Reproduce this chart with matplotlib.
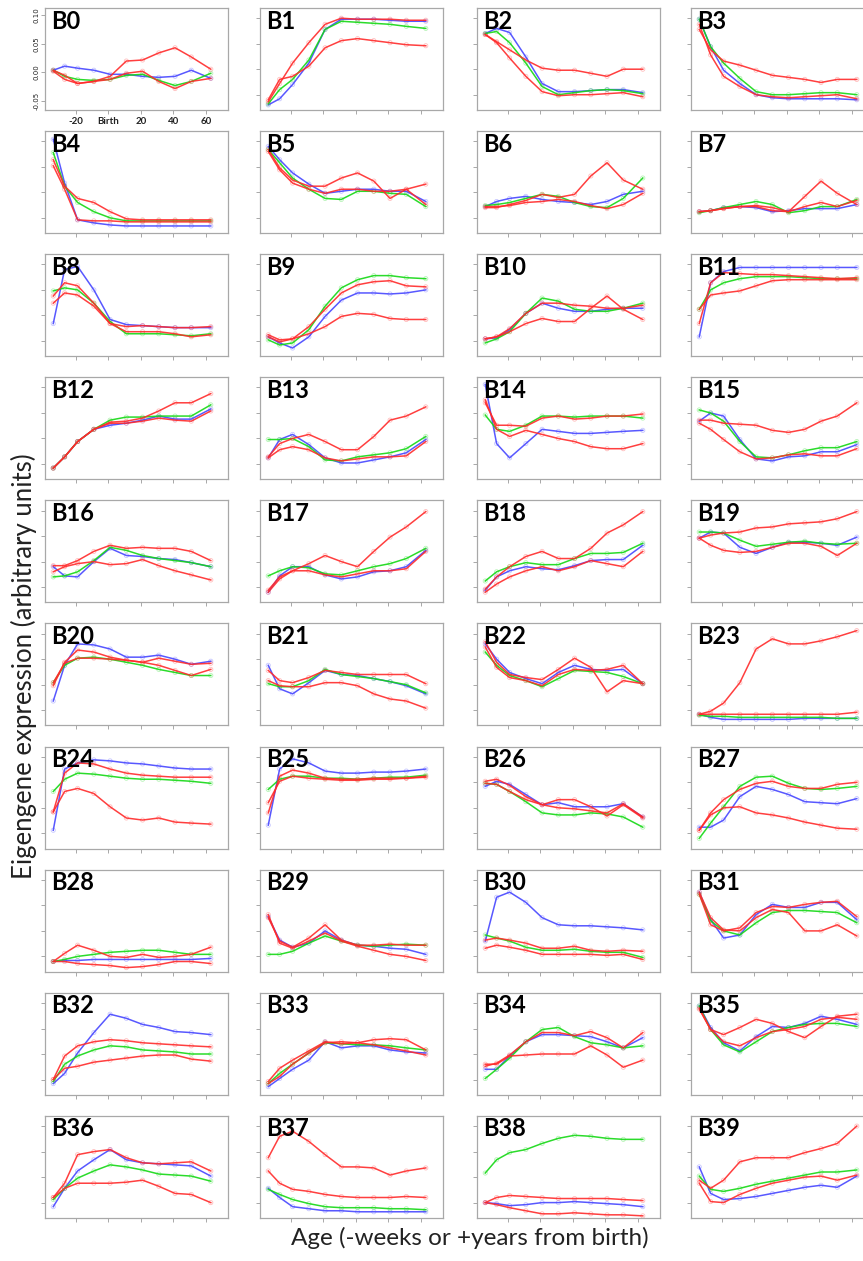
import matplotlib.pyplot as plt

# positions of the smoothed-curve knots on the age axis (tick 1 = -20 wk, 2 = birth, ...)
KNOT_X = [0.3, 0.65, 1.05, 1.55, 2.05, 2.55, 3.05, 3.55, 4.05, 4.55, 5.15]
TICK_POS = [1, 2, 3, 4, 5]
TICK_LABELS = ['-20', 'Birth', '20', '40', '60']
B0_YTICK_POS = [0.09, 0.37, 0.65, 0.93]
B0_YTICK_LABELS = ['-0.05', '0.00', '0.05', '0.10']
YTICK_POS = [0.15, 0.4, 0.65, 0.9]
PANEL_NAMES = ['B%d' % i for i in range(40)]

# eigengene curves, scaled to the panel height (0 = bottom, 1 = top)
BLUE = [
    [0.39, 0.43, 0.41, 0.39, 0.35, 0.35, 0.33, 0.32, 0.33, 0.39, 0.31],  # B0
    [0.05, 0.11, 0.25, 0.46, 0.79, 0.89, 0.89, 0.89, 0.88, 0.87, 0.87],  # B1
    [0.75, 0.80, 0.76, 0.52, 0.26, 0.18, 0.18, 0.19, 0.20, 0.20, 0.17],  # B2
    [0.89, 0.62, 0.39, 0.26, 0.15, 0.12, 0.11, 0.11, 0.11, 0.11, 0.10],  # B3
    [0.92, 0.49, 0.13, 0.10, 0.08, 0.07, 0.07, 0.07, 0.07, 0.07, 0.07],  # B4
    [0.85, 0.72, 0.59, 0.48, 0.39, 0.41, 0.43, 0.43, 0.41, 0.41, 0.31],  # B5
    [0.26, 0.31, 0.34, 0.36, 0.33, 0.31, 0.30, 0.28, 0.31, 0.38, 0.41],  # B6
    [0.21, 0.22, 0.25, 0.26, 0.25, 0.21, 0.22, 0.24, 0.24, 0.24, 0.28],  # B7
    [0.32, 0.85, 0.88, 0.65, 0.36, 0.31, 0.30, 0.29, 0.28, 0.28, 0.28],  # B8
    [0.19, 0.13, 0.08, 0.19, 0.39, 0.55, 0.62, 0.62, 0.61, 0.62, 0.65],  # B9
    [0.17, 0.18, 0.26, 0.42, 0.52, 0.47, 0.44, 0.44, 0.46, 0.47, 0.47],  # B10
    [0.19, 0.72, 0.83, 0.87, 0.87, 0.87, 0.87, 0.87, 0.87, 0.87, 0.87],  # B11
    [0.11, 0.22, 0.37, 0.49, 0.53, 0.55, 0.58, 0.62, 0.59, 0.59, 0.69],  # B12
    [0.21, 0.39, 0.44, 0.34, 0.21, 0.16, 0.16, 0.19, 0.22, 0.26, 0.39],  # B13
    [0.93, 0.35, 0.21, 0.35, 0.49, 0.47, 0.45, 0.45, 0.46, 0.47, 0.48],  # B14
    [0.57, 0.65, 0.62, 0.39, 0.20, 0.18, 0.22, 0.23, 0.27, 0.27, 0.34],  # B15
    [0.35, 0.26, 0.25, 0.40, 0.53, 0.46, 0.45, 0.43, 0.42, 0.39, 0.35],  # B16
    [0.10, 0.26, 0.35, 0.35, 0.27, 0.23, 0.25, 0.30, 0.31, 0.35, 0.51],  # B17
    [0.12, 0.25, 0.31, 0.35, 0.33, 0.32, 0.36, 0.41, 0.42, 0.42, 0.56],  # B18
    [0.63, 0.69, 0.68, 0.54, 0.48, 0.54, 0.59, 0.59, 0.58, 0.56, 0.64],  # B19
    [0.24, 0.59, 0.80, 0.79, 0.75, 0.67, 0.67, 0.69, 0.65, 0.60, 0.63],  # B20
    [0.59, 0.36, 0.31, 0.42, 0.54, 0.50, 0.49, 0.46, 0.43, 0.39, 0.31],  # B21
    [0.80, 0.65, 0.52, 0.46, 0.41, 0.52, 0.59, 0.55, 0.54, 0.55, 0.41],  # B22
    [0.11, 0.08, 0.06, 0.06, 0.06, 0.06, 0.06, 0.07, 0.07, 0.07, 0.07],  # B23
    [0.18, 0.78, 0.84, 0.87, 0.86, 0.84, 0.83, 0.81, 0.79, 0.78, 0.78],  # B24
    [0.23, 0.78, 0.88, 0.84, 0.76, 0.74, 0.74, 0.75, 0.75, 0.76, 0.78],  # B25
    [0.61, 0.66, 0.63, 0.53, 0.43, 0.45, 0.41, 0.41, 0.41, 0.44, 0.31],  # B26
    [0.21, 0.21, 0.28, 0.51, 0.61, 0.58, 0.53, 0.46, 0.45, 0.44, 0.49],  # B27
    [0.10, 0.11, 0.11, 0.12, 0.12, 0.12, 0.12, 0.12, 0.12, 0.12, 0.13],  # B28
    [0.54, 0.31, 0.24, 0.28, 0.40, 0.31, 0.26, 0.25, 0.23, 0.22, 0.17],  # B29
    [0.30, 0.73, 0.78, 0.68, 0.53, 0.46, 0.45, 0.45, 0.44, 0.43, 0.41],  # B30
    [0.78, 0.51, 0.33, 0.36, 0.56, 0.66, 0.63, 0.63, 0.68, 0.68, 0.51],  # B31
    [0.11, 0.21, 0.41, 0.61, 0.79, 0.75, 0.69, 0.66, 0.62, 0.61, 0.59],  # B32
    [0.08, 0.16, 0.25, 0.34, 0.52, 0.46, 0.48, 0.48, 0.44, 0.42, 0.41],  # B33
    [0.25, 0.25, 0.38, 0.52, 0.59, 0.59, 0.58, 0.57, 0.52, 0.46, 0.56],  # B34
    [0.87, 0.66, 0.51, 0.43, 0.57, 0.67, 0.66, 0.70, 0.77, 0.74, 0.69],  # B35
    [0.11, 0.29, 0.46, 0.57, 0.67, 0.57, 0.54, 0.53, 0.52, 0.51, 0.41],  # B36
    [0.29, 0.20, 0.11, 0.09, 0.07, 0.07, 0.06, 0.06, 0.06, 0.06, 0.06],  # B37
    [0.15, 0.14, 0.12, 0.13, 0.15, 0.15, 0.16, 0.15, 0.14, 0.13, 0.11],  # B38
    [0.50, 0.24, 0.18, 0.19, 0.21, 0.24, 0.27, 0.30, 0.32, 0.30, 0.41],  # B39
]

GREEN = [
    [0.39, 0.33, 0.30, 0.29, 0.30, 0.34, 0.35, 0.29, 0.24, 0.28, 0.36],  # B0
    [0.06, 0.20, 0.30, 0.49, 0.79, 0.87, 0.86, 0.85, 0.84, 0.82, 0.80],  # B1
    [0.75, 0.77, 0.66, 0.46, 0.23, 0.15, 0.17, 0.19, 0.20, 0.19, 0.16],  # B2
    [0.89, 0.62, 0.46, 0.31, 0.18, 0.15, 0.15, 0.16, 0.17, 0.17, 0.15],  # B3
    [0.79, 0.46, 0.30, 0.21, 0.15, 0.12, 0.12, 0.12, 0.12, 0.12, 0.12],  # B4
    [0.82, 0.69, 0.54, 0.43, 0.34, 0.33, 0.41, 0.41, 0.39, 0.38, 0.26],  # B5
    [0.27, 0.28, 0.30, 0.34, 0.38, 0.36, 0.30, 0.26, 0.25, 0.34, 0.54],  # B6
    [0.20, 0.22, 0.25, 0.28, 0.31, 0.28, 0.20, 0.22, 0.26, 0.26, 0.33],  # B7
    [0.64, 0.67, 0.65, 0.52, 0.34, 0.22, 0.22, 0.22, 0.21, 0.20, 0.22],  # B8
    [0.16, 0.11, 0.13, 0.26, 0.49, 0.67, 0.75, 0.79, 0.79, 0.77, 0.76],  # B9
    [0.13, 0.17, 0.24, 0.42, 0.57, 0.54, 0.46, 0.44, 0.44, 0.47, 0.52],  # B10
    [0.46, 0.65, 0.72, 0.76, 0.78, 0.78, 0.78, 0.77, 0.76, 0.76, 0.76],  # B11
    [0.11, 0.22, 0.37, 0.49, 0.58, 0.61, 0.61, 0.62, 0.62, 0.62, 0.73],  # B12
    [0.39, 0.39, 0.40, 0.32, 0.19, 0.18, 0.22, 0.24, 0.26, 0.30, 0.42],  # B13
    [0.63, 0.49, 0.47, 0.53, 0.62, 0.62, 0.61, 0.62, 0.62, 0.62, 0.60],  # B14
    [0.68, 0.65, 0.57, 0.37, 0.22, 0.21, 0.24, 0.28, 0.31, 0.31, 0.37],  # B15
    [0.25, 0.26, 0.30, 0.41, 0.54, 0.51, 0.46, 0.43, 0.41, 0.39, 0.35],  # B16
    [0.26, 0.31, 0.35, 0.34, 0.28, 0.27, 0.31, 0.35, 0.38, 0.43, 0.53],  # B17
    [0.21, 0.30, 0.35, 0.39, 0.37, 0.37, 0.43, 0.48, 0.48, 0.49, 0.58],  # B18
    [0.69, 0.69, 0.68, 0.61, 0.55, 0.57, 0.59, 0.60, 0.58, 0.57, 0.58],  # B19
    [0.42, 0.59, 0.66, 0.67, 0.65, 0.62, 0.59, 0.55, 0.52, 0.49, 0.49],  # B20
    [0.41, 0.38, 0.38, 0.44, 0.55, 0.50, 0.48, 0.46, 0.43, 0.40, 0.32],  # B21
    [0.72, 0.59, 0.49, 0.44, 0.38, 0.46, 0.54, 0.53, 0.52, 0.48, 0.41],  # B22
    [0.10, 0.09, 0.09, 0.08, 0.08, 0.08, 0.08, 0.08, 0.08, 0.07, 0.07],  # B23
    [0.56, 0.68, 0.74, 0.73, 0.71, 0.69, 0.68, 0.68, 0.67, 0.66, 0.64],  # B24
    [0.58, 0.68, 0.71, 0.71, 0.69, 0.69, 0.68, 0.69, 0.70, 0.70, 0.72],  # B25
    [0.64, 0.63, 0.56, 0.46, 0.35, 0.33, 0.33, 0.35, 0.34, 0.31, 0.21],  # B26
    [0.10, 0.25, 0.41, 0.61, 0.70, 0.71, 0.64, 0.59, 0.58, 0.59, 0.61],  # B27
    [0.10, 0.12, 0.15, 0.17, 0.19, 0.20, 0.21, 0.21, 0.19, 0.17, 0.17],  # B28
    [0.17, 0.17, 0.20, 0.28, 0.35, 0.30, 0.26, 0.25, 0.26, 0.27, 0.26],  # B29
    [0.36, 0.33, 0.30, 0.24, 0.21, 0.21, 0.22, 0.20, 0.19, 0.19, 0.14],  # B30
    [0.76, 0.50, 0.40, 0.36, 0.48, 0.58, 0.60, 0.60, 0.59, 0.58, 0.48],  # B31
    [0.13, 0.30, 0.38, 0.44, 0.48, 0.47, 0.44, 0.43, 0.42, 0.40, 0.40],  # B32
    [0.11, 0.21, 0.30, 0.41, 0.51, 0.50, 0.49, 0.49, 0.48, 0.46, 0.44],  # B33
    [0.16, 0.25, 0.36, 0.52, 0.64, 0.66, 0.57, 0.51, 0.49, 0.46, 0.48],  # B34
    [0.87, 0.64, 0.49, 0.42, 0.52, 0.62, 0.66, 0.69, 0.70, 0.70, 0.67],  # B35
    [0.18, 0.29, 0.39, 0.46, 0.52, 0.50, 0.47, 0.43, 0.42, 0.41, 0.36],  # B36
    [0.28, 0.23, 0.18, 0.14, 0.11, 0.10, 0.10, 0.10, 0.09, 0.09, 0.08],  # B37
    [0.44, 0.57, 0.64, 0.67, 0.73, 0.78, 0.81, 0.80, 0.78, 0.77, 0.77],  # B38
    [0.41, 0.28, 0.26, 0.29, 0.33, 0.36, 0.39, 0.42, 0.45, 0.45, 0.47],  # B39
]

RED_A = [
    [0.38, 0.30, 0.26, 0.28, 0.33, 0.48, 0.49, 0.56, 0.61, 0.52, 0.40],  # B0
    [0.08, 0.26, 0.46, 0.66, 0.84, 0.90, 0.89, 0.89, 0.89, 0.88, 0.88],  # B1
    [0.74, 0.67, 0.59, 0.49, 0.41, 0.39, 0.39, 0.36, 0.33, 0.40, 0.40],  # B2
    [0.79, 0.59, 0.48, 0.44, 0.39, 0.34, 0.32, 0.30, 0.27, 0.30, 0.30],  # B3
    [0.72, 0.46, 0.34, 0.30, 0.21, 0.14, 0.13, 0.13, 0.13, 0.13, 0.13],  # B4
    [0.82, 0.64, 0.52, 0.46, 0.46, 0.54, 0.59, 0.51, 0.34, 0.43, 0.48],  # B5
    [0.25, 0.25, 0.28, 0.32, 0.38, 0.35, 0.38, 0.56, 0.69, 0.52, 0.43],  # B6
    [0.21, 0.22, 0.24, 0.26, 0.26, 0.22, 0.21, 0.36, 0.51, 0.39, 0.28],  # B7
    [0.59, 0.72, 0.69, 0.52, 0.32, 0.24, 0.24, 0.24, 0.22, 0.19, 0.21],  # B8
    [0.19, 0.14, 0.17, 0.29, 0.46, 0.62, 0.70, 0.73, 0.74, 0.69, 0.68],  # B9
    [0.17, 0.19, 0.27, 0.42, 0.52, 0.52, 0.50, 0.49, 0.47, 0.47, 0.50],  # B10
    [0.32, 0.72, 0.82, 0.81, 0.80, 0.80, 0.79, 0.78, 0.77, 0.76, 0.77],  # B11
    [0.11, 0.22, 0.37, 0.49, 0.56, 0.57, 0.60, 0.67, 0.75, 0.75, 0.84],  # B12
    [0.22, 0.35, 0.40, 0.44, 0.37, 0.29, 0.29, 0.42, 0.58, 0.62, 0.71],  # B13
    [0.75, 0.53, 0.53, 0.52, 0.60, 0.62, 0.59, 0.60, 0.62, 0.62, 0.64],  # B14
    [0.58, 0.58, 0.55, 0.54, 0.53, 0.48, 0.46, 0.49, 0.57, 0.62, 0.75],  # B15
    [0.36, 0.36, 0.41, 0.50, 0.56, 0.53, 0.54, 0.53, 0.53, 0.50, 0.41],  # B16
    [0.12, 0.25, 0.31, 0.38, 0.46, 0.40, 0.35, 0.50, 0.64, 0.74, 0.89],  # B17
    [0.13, 0.25, 0.35, 0.45, 0.50, 0.43, 0.43, 0.53, 0.68, 0.76, 0.89],  # B18
    [0.63, 0.66, 0.68, 0.69, 0.73, 0.74, 0.77, 0.78, 0.79, 0.82, 0.89],  # B19
    [0.39, 0.62, 0.74, 0.72, 0.67, 0.64, 0.62, 0.66, 0.63, 0.60, 0.61],  # B20
    [0.54, 0.44, 0.42, 0.47, 0.54, 0.52, 0.50, 0.50, 0.50, 0.50, 0.41],  # B21
    [0.82, 0.62, 0.50, 0.47, 0.45, 0.55, 0.66, 0.57, 0.33, 0.44, 0.41],  # B22
    [0.11, 0.14, 0.22, 0.42, 0.75, 0.85, 0.80, 0.80, 0.83, 0.87, 0.93],  # B23
    [0.36, 0.74, 0.84, 0.83, 0.78, 0.74, 0.72, 0.71, 0.70, 0.70, 0.70],  # B24
    [0.35, 0.71, 0.77, 0.74, 0.69, 0.68, 0.68, 0.69, 0.69, 0.69, 0.71],  # B25
    [0.66, 0.68, 0.62, 0.51, 0.43, 0.48, 0.48, 0.41, 0.32, 0.43, 0.30],  # B26
    [0.18, 0.35, 0.48, 0.58, 0.64, 0.66, 0.61, 0.59, 0.59, 0.63, 0.65],  # B27
    [0.10, 0.18, 0.26, 0.21, 0.15, 0.14, 0.17, 0.14, 0.15, 0.17, 0.24],  # B28
    [0.53, 0.30, 0.24, 0.33, 0.46, 0.31, 0.26, 0.26, 0.27, 0.26, 0.26],  # B29
    [0.31, 0.33, 0.31, 0.28, 0.23, 0.23, 0.25, 0.21, 0.20, 0.21, 0.20],  # B30
    [0.76, 0.46, 0.40, 0.43, 0.58, 0.64, 0.63, 0.66, 0.68, 0.69, 0.54],  # B31
    [0.15, 0.38, 0.48, 0.52, 0.54, 0.53, 0.51, 0.50, 0.49, 0.48, 0.47],  # B32
    [0.13, 0.26, 0.34, 0.43, 0.52, 0.50, 0.51, 0.54, 0.55, 0.54, 0.44],  # B33
    [0.28, 0.31, 0.39, 0.52, 0.61, 0.61, 0.58, 0.62, 0.56, 0.46, 0.61],  # B34
    [0.84, 0.64, 0.59, 0.66, 0.74, 0.70, 0.62, 0.56, 0.67, 0.77, 0.79],  # B35
    [0.20, 0.34, 0.62, 0.65, 0.67, 0.59, 0.54, 0.53, 0.54, 0.55, 0.46],  # B36
    [0.59, 0.80, 0.85, 0.75, 0.62, 0.50, 0.50, 0.49, 0.42, 0.46, 0.49],  # B37
    [0.15, 0.20, 0.22, 0.21, 0.20, 0.19, 0.19, 0.19, 0.19, 0.18, 0.17],  # B38
    [0.37, 0.29, 0.37, 0.55, 0.59, 0.59, 0.59, 0.64, 0.68, 0.73, 0.90],  # B39
]

RED_B = [
    [0.39, 0.34, 0.26, 0.28, 0.30, 0.36, 0.38, 0.28, 0.21, 0.28, 0.31],  # B0
    [0.10, 0.30, 0.33, 0.43, 0.61, 0.68, 0.70, 0.68, 0.66, 0.64, 0.63],  # B1
    [0.74, 0.66, 0.51, 0.33, 0.18, 0.14, 0.15, 0.15, 0.16, 0.17, 0.13],  # B2
    [0.84, 0.54, 0.33, 0.23, 0.15, 0.13, 0.12, 0.13, 0.14, 0.15, 0.11],  # B3
    [0.66, 0.43, 0.13, 0.12, 0.12, 0.11, 0.11, 0.11, 0.11, 0.11, 0.11],  # B4
    [0.80, 0.62, 0.49, 0.43, 0.39, 0.43, 0.43, 0.41, 0.41, 0.43, 0.28],  # B5
    [0.26, 0.26, 0.27, 0.30, 0.31, 0.33, 0.31, 0.27, 0.24, 0.28, 0.39],  # B6
    [0.21, 0.22, 0.24, 0.26, 0.27, 0.25, 0.21, 0.26, 0.30, 0.26, 0.32],  # B7
    [0.52, 0.62, 0.60, 0.49, 0.32, 0.29, 0.30, 0.29, 0.28, 0.28, 0.29],  # B8
    [0.21, 0.16, 0.17, 0.22, 0.29, 0.39, 0.42, 0.41, 0.37, 0.36, 0.36],  # B9
    [0.17, 0.19, 0.24, 0.32, 0.37, 0.34, 0.34, 0.47, 0.59, 0.46, 0.36],  # B10
    [0.46, 0.60, 0.62, 0.64, 0.69, 0.74, 0.75, 0.75, 0.75, 0.75, 0.75],  # B11
    [0.11, 0.22, 0.37, 0.49, 0.55, 0.55, 0.57, 0.60, 0.58, 0.57, 0.67],  # B12
    [0.21, 0.29, 0.32, 0.29, 0.21, 0.18, 0.20, 0.22, 0.22, 0.23, 0.37],  # B13
    [0.78, 0.49, 0.42, 0.48, 0.44, 0.40, 0.37, 0.32, 0.30, 0.30, 0.35],  # B14
    [0.55, 0.49, 0.39, 0.27, 0.20, 0.21, 0.24, 0.25, 0.23, 0.23, 0.30],  # B15
    [0.30, 0.35, 0.38, 0.40, 0.37, 0.38, 0.42, 0.36, 0.31, 0.27, 0.22],  # B16
    [0.10, 0.23, 0.31, 0.31, 0.27, 0.25, 0.28, 0.31, 0.31, 0.33, 0.50],  # B17
    [0.10, 0.18, 0.25, 0.31, 0.35, 0.31, 0.35, 0.41, 0.38, 0.35, 0.50],  # B18
    [0.63, 0.56, 0.51, 0.49, 0.50, 0.54, 0.58, 0.58, 0.55, 0.46, 0.58],  # B19
    [0.42, 0.61, 0.66, 0.66, 0.65, 0.64, 0.62, 0.59, 0.54, 0.49, 0.55],  # B20
    [0.44, 0.39, 0.38, 0.38, 0.42, 0.42, 0.39, 0.31, 0.26, 0.24, 0.17],  # B21
    [0.77, 0.57, 0.47, 0.44, 0.39, 0.50, 0.55, 0.54, 0.55, 0.59, 0.41],  # B22
    [0.11, 0.11, 0.11, 0.11, 0.11, 0.11, 0.11, 0.11, 0.11, 0.11, 0.13],  # B23
    [0.36, 0.56, 0.59, 0.54, 0.41, 0.30, 0.28, 0.30, 0.26, 0.25, 0.24],  # B24
    [0.45, 0.66, 0.71, 0.69, 0.68, 0.67, 0.67, 0.68, 0.68, 0.69, 0.70],  # B25
    [0.64, 0.63, 0.56, 0.48, 0.43, 0.40, 0.39, 0.37, 0.35, 0.44, 0.31],  # B26
    [0.18, 0.33, 0.40, 0.41, 0.35, 0.33, 0.30, 0.26, 0.23, 0.20, 0.19],  # B27
    [0.10, 0.10, 0.08, 0.07, 0.06, 0.04, 0.05, 0.07, 0.10, 0.10, 0.08],  # B28
    [0.56, 0.28, 0.23, 0.30, 0.38, 0.30, 0.25, 0.21, 0.17, 0.15, 0.11],  # B29
    [0.23, 0.26, 0.24, 0.21, 0.17, 0.17, 0.17, 0.17, 0.16, 0.17, 0.12],  # B30
    [0.78, 0.53, 0.41, 0.40, 0.53, 0.61, 0.58, 0.40, 0.40, 0.46, 0.35],  # B31
    [0.15, 0.26, 0.28, 0.32, 0.34, 0.36, 0.38, 0.39, 0.39, 0.35, 0.33],  # B32
    [0.11, 0.18, 0.30, 0.41, 0.51, 0.52, 0.51, 0.49, 0.46, 0.43, 0.39],  # B33
    [0.30, 0.30, 0.38, 0.39, 0.40, 0.40, 0.40, 0.48, 0.39, 0.27, 0.34],  # B34
    [0.85, 0.64, 0.52, 0.48, 0.56, 0.62, 0.64, 0.67, 0.74, 0.76, 0.74],  # B35
    [0.20, 0.29, 0.34, 0.34, 0.34, 0.35, 0.37, 0.31, 0.24, 0.23, 0.15],  # B36
    [0.46, 0.34, 0.28, 0.26, 0.23, 0.21, 0.20, 0.20, 0.20, 0.21, 0.20],  # B37
    [0.15, 0.13, 0.10, 0.07, 0.04, 0.04, 0.05, 0.04, 0.03, 0.03, 0.02],  # B38
    [0.34, 0.16, 0.15, 0.23, 0.29, 0.34, 0.37, 0.40, 0.41, 0.37, 0.42],  # B39
]

SERIES = [(BLUE, '#4646ff'), (GREEN, '#14d814'), (RED_A, '#ff2a2a'), (RED_B, '#ff2a2a')]

W, H = 863, 1261
fig = plt.figure(figsize=(W / 100, H / 100), dpi=100)
fig.patch.set_facecolor('white')

col_left = [45, 260, 477, 691]
box_w, box_h = 183, 102
row_step = 123.1

for i, name in enumerate(PANEL_NAMES):
    r, c = divmod(i, 4)
    top = 8 + r * row_step
    ax = fig.add_axes([col_left[c] / W, 1 - (top + box_h) / H, box_w / W, box_h / H])
    for data, color in SERIES:
        # faint sample markers, then the smoothed curve
        ax.scatter(KNOT_X, data[i], s=9, facecolors='none', edgecolors=color,
                   linewidths=0.6, alpha=0.3, zorder=2)
        ax.plot(KNOT_X, data[i], color=color, lw=1.1, alpha=0.9, zorder=3)
    ax.set_xlim(0.046, 5.68)
    ax.set_ylim(0, 1)
    ax.set_xticks(TICK_POS)
    for sp in ax.spines.values():
        sp.set_color('#a8a8a8')
        sp.set_linewidth(0.9)
    ax.tick_params(colors='#9a9a9a', length=3, width=0.6)
    if i == 0:
        ax.set_yticks(B0_YTICK_POS)
        ax.set_yticklabels(B0_YTICK_LABELS, rotation=90, va='center', fontsize=5, color='#222')
        ax.set_xticklabels(TICK_LABELS, fontsize=7, fontweight='bold', color='#222', family='Lato')
        ax.tick_params(axis='x', pad=2)
        ax.tick_params(axis='y', pad=1)
    else:
        ax.set_yticks(YTICK_POS)
        ax.set_xticklabels([])
        ax.set_yticklabels([])
    ax.text(0.035, 0.985, name, transform=ax.transAxes, ha='left', va='top',
            fontsize=17, fontweight='bold', family='Lato', color='black', zorder=5)

fig.text(24 / W, 1 - 666 / H, 'Eigengene expression (arbitrary units)', rotation=90,
         ha='center', va='center', fontsize=18.5, family='Lato', color='#222')
fig.text(470 / W, 1 - 1238 / H, 'Age (-weeks or +years from birth)',
         ha='center', va='center', fontsize=17.5, family='Lato', color='#222')

fig.savefig('out.png', dpi=100, facecolor='white')
